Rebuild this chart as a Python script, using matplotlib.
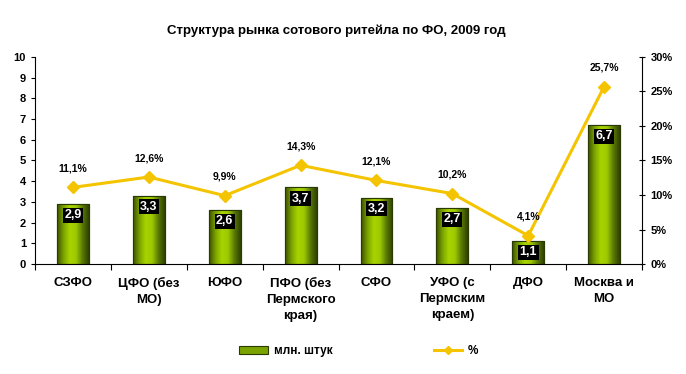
import matplotlib
matplotlib.use("Agg")
import matplotlib.pyplot as plt
import numpy as np
from matplotlib.ticker import FuncFormatter, MultipleLocator
from matplotlib.colors import LinearSegmentedColormap
from matplotlib.lines import Line2D
from matplotlib.patches import Patch

plt.rcParams['font.family'] = ['Liberation Sans', 'DejaVu Sans']

title = "Структура рынка сотового ритейла по ФО, 2009 год"
categories = ["СЗФО", "ЦФО (без\nМО)", "ЮФО", "ПФО (без\nПермского\nкрая)",
              "СФО", "УФО (с\nПермским\nкраем)", "ДФО", "Москва и\nМО"]
units = [2.9, 3.3, 2.6, 3.7, 3.2, 2.7, 1.1, 6.7]
share = [11.1, 12.6, 9.9, 14.3, 12.1, 10.2, 4.1, 25.7]
bar_label = "млн. штук"
line_label = "%"

fig = plt.figure(figsize=(6.86, 3.74), dpi=100)
ax = fig.add_axes([0.051, 0.294, 0.885, 0.554])
x = np.arange(len(categories))

bars = ax.bar(x, units, width=0.42, color='#8ab800', edgecolor='#2a3a00',
              linewidth=0.8, zorder=2)
cmap = LinearSegmentedColormap.from_list('g', ['#3d5200', '#7aa300', '#a8d400', '#9cc800', '#5a7a00', '#304200'])
grad = np.linspace(0, 1, 64).reshape(1, -1)
for b in bars:
    x0, y0 = b.get_x(), b.get_y()
    w, h = b.get_width(), b.get_height()
    im = ax.imshow(grad, cmap=cmap, extent=[x0, x0 + w, y0, y0 + h],
                   aspect='auto', zorder=2.1, interpolation='bilinear')
    im.set_clip_path(b)
    ax.add_patch(plt.Rectangle((x0, y0), w, h, fill=False, edgecolor='#2a3a00',
                               linewidth=0.8, zorder=2.2))

for xi, v in zip(x, units):
    ax.text(xi, v - 0.25, f"{v:.1f}".replace('.', ','), ha='center', va='top',
            color='white', fontsize=9, fontweight='bold', zorder=5,
            bbox=dict(boxstyle='square,pad=0.12', fc='black', ec='none'))

ax.set_xlim(-0.5, len(categories) - 0.5)
ax.set_ylim(0, 10)
ax.yaxis.set_major_locator(MultipleLocator(1))
ax.set_xticks(x)
ax.set_xticklabels(categories, fontsize=9.5, fontweight='bold', linespacing=1.45, va='top')
ax.tick_params(axis='x', length=0, pad=9)
ax.set_xticks(np.arange(-0.5, len(categories), 1), minor=True)
ax.tick_params(axis='x', which='minor', length=4, direction='out', width=0.8)
ax.tick_params(axis='y', length=3, direction='out', labelsize=8, width=0.8)
for t in ax.get_yticklabels():
    t.set_fontweight('bold')
for s in ['top', 'right']:
    ax.spines[s].set_visible(False)

ax2 = ax.twinx()
ax2.plot(x, share, color='#f5c400', linewidth=2.2, marker='D', markersize=6,
         markerfacecolor='#f5c400', markeredgecolor='#f5c400', zorder=3)
ax2.set_ylim(0, 30)
ax2.yaxis.set_major_locator(MultipleLocator(5))
ax2.yaxis.set_major_formatter(FuncFormatter(lambda v, p: f"{v:.0f}%"))
ax2.tick_params(axis='y', length=5, direction='inout', labelsize=8, width=0.8)
for t in ax2.get_yticklabels():
    t.set_fontweight('bold')
for s in ['top', 'left', 'bottom']:
    ax2.spines[s].set_visible(False)
for xi, v in zip(x, share):
    ax2.annotate(f"{v:.1f}%".replace('.', ','), (xi, v), xytext=(0, 10),
                 textcoords='offset points', ha='center', va='bottom',
                 fontsize=7.5, fontweight='bold')

ax.set_zorder(2)
ax.patch.set_visible(False)
ax2.set_zorder(3)

fig.suptitle(title, x=0.49, y=0.935, fontsize=9.5, fontweight='bold')

handles = [Patch(facecolor='#7aa300', edgecolor='#2a3a00', linewidth=0.8),
           Line2D([0], [0], color='#f5c400', linewidth=2.2, marker='D',
                  markersize=4)]
fig.legend(handles, [bar_label, line_label], loc='center', ncol=2,
           bbox_to_anchor=(0.523, 0.061), frameon=False, columnspacing=8.6,
           handlelength=2.4, handletextpad=0.5, prop=dict(size=8.5, weight='bold'))

fig.savefig('out.png', dpi=100)
